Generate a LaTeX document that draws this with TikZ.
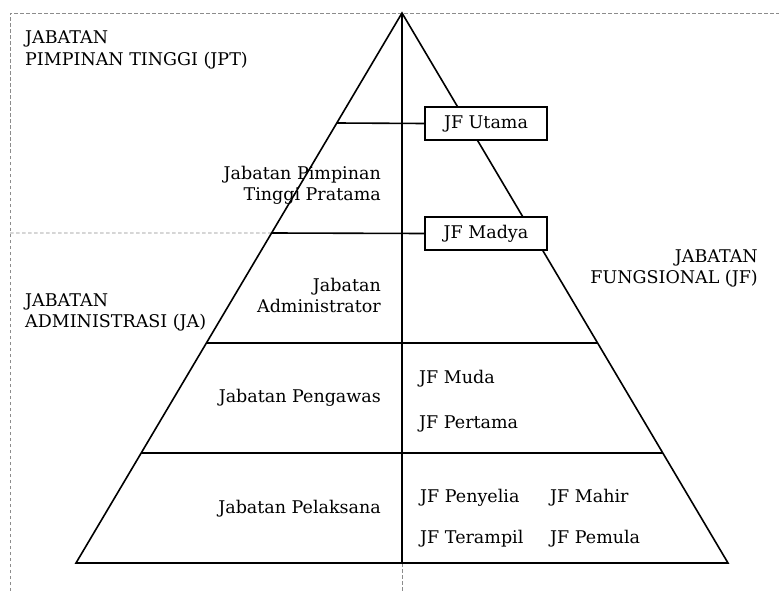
\documentclass[tikz,border=0pt]{standalone}
\usepackage{fontspec}
\setmainfont{DejaVu Serif}
\usepackage{xcolor}
\usetikzlibrary{positioning,calc}
\definecolor{frameGray}{RGB}{140,140,140}

\begin{document}
\begin{tikzpicture}[x=1pt,y=-1pt,
    tier/.style={line width=1.6pt},
    frame/.style={frameGray,line width=0.7pt,dash pattern=on 3.5pt off 2.5pt},
    lbl/.style={font=\fontsize{17.5}{20.5}\selectfont,inner sep=0pt},
    jfbox/.style={draw,line width=1.6pt,fill=white,minimum width=122pt,minimum height=33pt,inner sep=0pt}]
    \useasboundingbox (0,0) rectangle (779,591);

    % Pyramid corners
    \coordinate (apex) at (402,13);
    \coordinate (baseL) at (76,563);
    \coordinate (baseR) at (728,563);
    \coordinate (baseM) at (402,563);
    \coordinate (foot) at (402,591);
    \foreach \f/\n in {0.2/1,0.4/2,0.6/3,0.8/4} {
        \coordinate (t\n l) at ($(apex)!\f!(baseL)$);
        \coordinate (t\n r) at ($(apex)!\f!(baseR)$);
    }

    % Dashed frame
    \draw[frame] (10,591) -- (10,13) -- (779,13);
    \draw[frame] (10,233) -- (t2l);
    \draw[frame] (baseM) -- (foot);

    % Pyramid
    \draw[tier,line join=miter] (apex) -- (baseL) -- (baseR) -- cycle;
    \draw[tier] (apex) -- (baseM);
    \draw[tier] (t3l) -- (t3r);
    \draw[tier] (t4l) -- (t4r);

    % Top JF boxes
    \node[jfbox,lbl] (utama) at (486,123.5) {JF Utama};
    \node[jfbox,lbl] (madya) at (486,233.5) {JF Madya};
    \draw[tier] (t1l) -- (utama.west);
    \draw[tier] (t2l) -- (madya.west);

    % Group labels
    \node[lbl,align=left,anchor=north west] (jpt) at (25,31) {JABATAN\\[1.5pt]PIMPINAN TINGGI (JPT)};
    \node[lbl,align=left,anchor=north west] (ja) at (25,294) {JABATAN\\ADMINISTRASI (JA)};
    \node[lbl,align=right,anchor=north east] (jf) at (758,250) {JABATAN\\FUNGSIONAL (JF)};

    % Left column
    \node[lbl,align=right,anchor=north east] (pratama) at (381,166.5) {Jabatan Pimpinan\\Tinggi Pratama};
    \node[lbl,align=right,anchor=north east] (admin) at (381,278.5) {Jabatan\\Administrator};
    \node[lbl,anchor=base east] (pengawas) at (381,402) {Jabatan Pengawas};
    \node[lbl,anchor=base east] (pelaksana) at (381,513) {Jabatan Pelaksana};

    % Right column
    \node[lbl,anchor=base west] (muda) at (419,383) {JF Muda};
    \node[lbl,anchor=base west] (pertama) at (419,428) {JF Pertama};
    \node[lbl,anchor=base west] (penyelia) at (420,502) {JF Penyelia};
    \node[lbl,anchor=base west] (terampil) at (420,543) {JF Terampil};
    \node[lbl,anchor=base west] (mahir) at (550,502) {JF Mahir};
    \node[lbl,anchor=base west] (pemula) at (550,543) {JF Pemula};
\end{tikzpicture}
\end{document}
